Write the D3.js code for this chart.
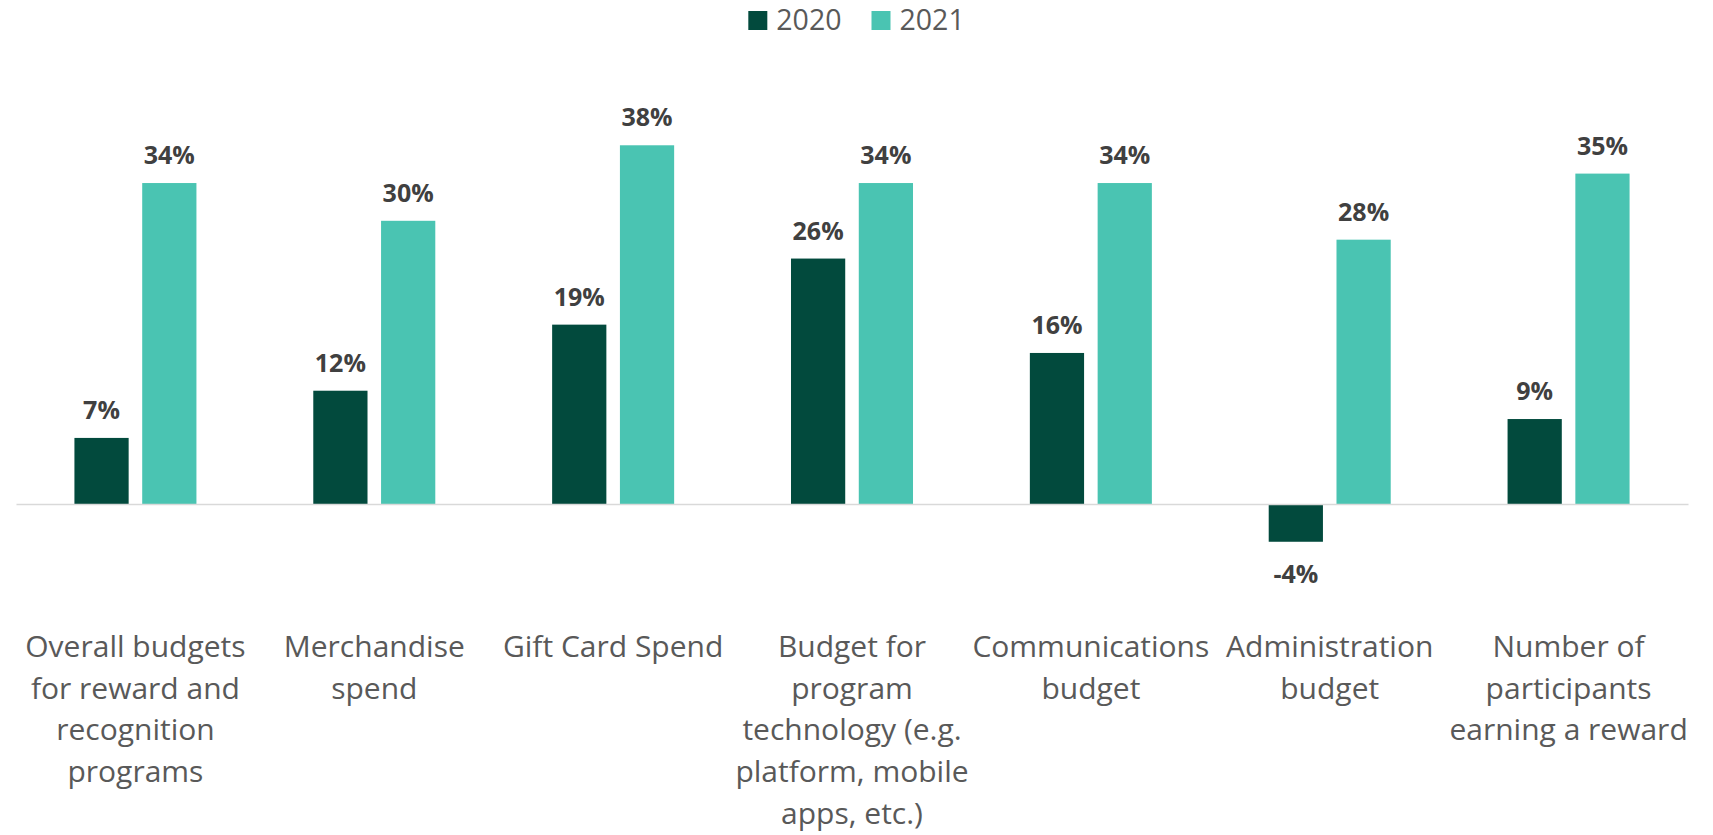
<!DOCTYPE html>
<html>
<head>
<meta charset="utf-8">
<script src="https://cdn.jsdelivr.net/npm/d3@7"></script>
<style>
  html, body { margin: 0; padding: 0; background: #ffffff; }
  svg { display: block; }
</style>
</head>
<body>
<svg id="chart" width="1713" height="835"></svg>
<script>
// Year-over-year change in reward & recognition spending
const categories = [
  "Overall budgets for reward and recognition programs",
  "Merchandise spend",
  "Gift Card Spend",
  "Budget for program technology (e.g. platform, mobile apps, etc.)",
  "Communications budget",
  "Administration budget",
  "Number of participants earning a reward"
];
// Line breaks used for the category labels under the axis
const categoryLines = [
  ["Overall budgets", "for reward and", "recognition", "programs"],
  ["Merchandise", "spend"],
  ["Gift Card Spend"],
  ["Budget for", "program", "technology (e.g.", "platform, mobile", "apps, etc.)"],
  ["Communications", "budget"],
  ["Administration", "budget"],
  ["Number of", "participants", "earning a reward"]
];
const seriesNames = ["2020", "2021"];
const values2020 = [7, 12, 19, 26, 16, -4, 9];
const values2021 = [34, 30, 38, 34, 34, 28, 35];
const seriesColors = ["#024A3D", "#4AC4B2"];

const W = 1713, H = 835;
const svg = d3.select("#chart");

const rows = categories.map((c, i) => ({
  category: c,
  values: [values2020[i], values2021[i]]
}));

// Scales
const x0 = d3.scaleBand()
  .domain(categories)
  .range([16, 1688])
  .paddingInner(0.4892)
  .paddingOuter(0.2446);

const x1 = d3.scaleBand()
  .domain(seriesNames)
  .range([0, x0.bandwidth()])
  .paddingInner(0.2);

const y = d3.scaleLinear()
  .domain([-5, 40])
  .range([551.2, 126.4]);

// Bars
const groups = svg.append("g").selectAll("g")
  .data(rows)
  .join("g")
  .attr("transform", d => `translate(${x0(d.category)},0)`);

groups.selectAll("rect")
  .data(d => d.values.map((v, k) => ({ series: seriesNames[k], value: v, k })))
  .join("rect")
  .attr("x", d => x1(d.series))
  .attr("width", x1.bandwidth())
  .attr("y", d => y(Math.max(0, d.value)))
  .attr("height", d => Math.abs(y(d.value) - y(0)))
  .attr("fill", d => seriesColors[d.k]);

// Category axis along the zero line
const axis = d3.axisBottom(x0).tickSize(0).tickSizeOuter(0);
const axisG = svg.append("g")
  .attr("transform", `translate(0,${y(0)})`)
  .call(axis);

axisG.select(".domain")
  .attr("stroke", "#D9D9D9")
  .attr("stroke-width", 1.6);

axisG.selectAll(".tick text")
  .attr("x", 0)
  .attr("y", 153)
  .attr("dy", 0)
  .attr("fill", "#595959")
  .style("font-family", "'Open Sans', 'Noto Sans', sans-serif")
  .style("font-size", "30px")
  .attr("text-anchor", "middle")
  .each(function(d) {
    const lines = categoryLines[categories.indexOf(d)];
    const t = d3.select(this).text(null);
    lines.forEach((ln, i) => {
      t.append("tspan")
        .attr("x", 0)
        .attr("dy", i === 0 ? 0 : 41.7)
        .text(ln);
    });
  });

// Value labels: above positive bars, below negative ones
groups.selectAll("text.val")
  .data(d => d.values.map((v, k) => ({ series: seriesNames[k], value: v, k })))
  .join("text")
  .attr("class", "val")
  .attr("x", d => x1(d.series) + x1.bandwidth() / 2)
  .attr("y", d => d.value >= 0 ? y(d.value) - 19 : y(d.value) + 41)
  .attr("text-anchor", "middle")
  .attr("fill", "#404040")
  .style("font-family", "'Open Sans', 'Noto Sans', sans-serif")
  .style("font-weight", 700)
  .style("font-size", "25px")
  .text(d => d.value + "%");

// Legend, centred at the top
const legend = svg.append("g");
const items = legend.selectAll("g")
  .data(seriesNames)
  .join("g");
items.append("rect")
  .attr("width", 19)
  .attr("height", 19)
  .attr("y", 11)
  .attr("fill", (d, i) => seriesColors[i]);
items.append("text")
  .attr("x", 28)
  .attr("y", 29.5)
  .attr("fill", "#595959")
  .style("font-family", "'Open Sans', 'Noto Sans', sans-serif")
  .style("font-size", "28.5px")
  .text(d => d);

let cursor = 0;
items.each(function() {
  const g = d3.select(this);
  g.attr("transform", `translate(${cursor},0)`);
  cursor += this.getBBox().width + 30;
});
const legendWidth = cursor - 30;
legend.attr("transform", `translate(${(W - legendWidth) / 2},0)`);
</script>
</body>
</html>
